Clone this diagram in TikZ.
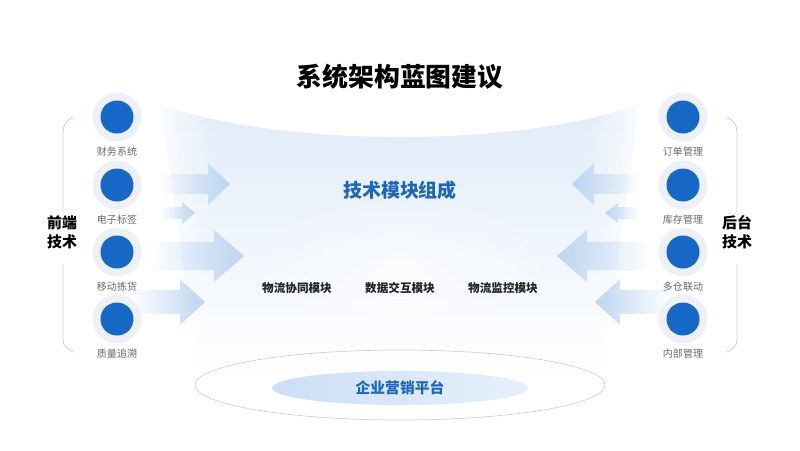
\documentclass[tikz,border=0pt]{standalone}
\usepackage{fontspec}
\setmainfont{Noto Sans CJK SC}
\usetikzlibrary{positioning,fadings}
\definecolor{dotblue}{HTML}{1767C6}
\definecolor{halobg}{HTML}{EDF1F7}
\definecolor{labelgrey}{HTML}{6A6A6A}
\definecolor{titleblue}{HTML}{1C66BC}
\definecolor{modtext}{HTML}{222222}
\definecolor{fieldblue}{HTML}{DDEAF9}
\definecolor{arrowblue}{HTML}{BDD5F1}
\definecolor{bracegrey}{HTML}{CDD2D9}
\definecolor{platA}{HTML}{CCDFF5}
\definecolor{platB}{HTML}{E6F0FB}
\tikzfading[name=tipright, left color=transparent!100, right color=transparent!0]
\tikzfading[name=tipleft, left color=transparent!0, right color=transparent!100]
\tikzfading[name=fieldfade, top color=transparent!10, bottom color=transparent!100]
\tikzfading[name=glowfade, inner color=transparent!40, outer color=transparent!100]
\begin{document}
\begin{tikzpicture}[x=0.02cm, y=-0.02cm,
    halo/.style={circle, fill=halobg, minimum size=0.98cm, inner sep=0pt},
    dot/.style={circle, fill=dotblue, minimum size=0.66cm, inner sep=0pt},
    tag/.style={text=labelgrey, font=\fontsize{5.7pt}{6pt}\selectfont, inner sep=0pt},
    side/.style={align=center, font=\fontsize{8.5pt}{10.8pt}\selectfont\bfseries, inner sep=0pt},
    module/.style={text=modtext, font=\fontsize{6.6pt}{7pt}\selectfont\bfseries, inner sep=0pt},
    brace/.style={draw=bracegrey, line width=0.5pt}]
  \useasboundingbox (0,0) rectangle (800,450);
  \fill[white] (0,0) rectangle (800,450);
  \fill[fieldblue, path fading=fieldfade] (160,104) .. controls (280,148) and (520,148) .. (640,104)
    .. controls (625,200) and (615,290) .. (600,370) -- (200,370)
    .. controls (185,290) and (175,200) .. (160,104) -- cycle;
  \fill[white, path fading=glowfade] (400,265) ellipse [x radius=160, y radius=75];
  \fill[white, path fading=tipleft] (150,95) rectangle (215,380);
  \fill[white, path fading=tipright] (585,95) rectangle (650,380);
  \foreach \tail/\tip/\cy/\hh/\sh/\hl in {160/230/184/21/10/22, 160/195/213/11/6/13,
      150/244/256/26/14/30, 130/205/302/23/12/25}
    \fill[arrowblue, path fading=tipright] (\tail,\cy-\sh) -- (\tip-\hl,\cy-\sh) -- (\tip-\hl,\cy-\hh)
      -- (\tip,\cy) -- (\tip-\hl,\cy+\hh) -- (\tip-\hl,\cy+\sh) -- (\tail,\cy+\sh) -- cycle;
  \foreach \tail/\tip/\cy/\hh/\sh/\hl in {640/572/184/21/10/22, 640/605/213/10/6/13,
      650/557/256/26/14/30, 670/595/302/23/12/25}
    \fill[arrowblue, path fading=tipleft] (\tail,\cy-\sh) -- (\tip+\hl,\cy-\sh) -- (\tip+\hl,\cy-\hh)
      -- (\tip,\cy) -- (\tip+\hl,\cy+\hh) -- (\tip+\hl,\cy+\sh) -- (\tail,\cy+\sh) -- cycle;
  \fill[white, opacity=0.85] (400,385) ellipse [x radius=205, y radius=35];
  \draw[bracegrey, line width=0.4pt] (400,385) ellipse [x radius=205, y radius=35];
  \shade[left color=platA, right color=platB] (400,388) ellipse [x radius=128, y radius=17];
  \node[text=titleblue, font=\fontsize{8.4pt}{9pt}\selectfont\bfseries] (plat) at (400,388) {企业营销平台};
  \node[font=\fontsize{14.7pt}{16pt}\selectfont\bfseries] (title) at (400,77) {系统架构蓝图建议};
  \node[text=titleblue, font=\fontsize{10.8pt}{12pt}\selectfont\bfseries] (core) at (400,190) {技术模块组成};
  \node[module] (mod2) at (400,288) {数据交互模块};
  \node[module] (mod1) at (297,288) {物流协同模块};
  \node[module] (mod3) at (503,288) {物流监控模块};
  \foreach \name/\y/\txt in {l1/117/财务系统, l2/185/电子标签, l3/252/移动拣货, l4/319/质量追溯} {
    \node[halo] (\name) at (117,\y) {};
    \node[dot] at (\name) {};
    \node[tag, below=2.5pt of \name] (\name-tag) {\txt};
  }
  \foreach \name/\y/\txt in {r1/117/订单管理, r2/185/库存管理, r3/252/多仓联动, r4/319/内部管理} {
    \node[halo] (\name) at (683,\y) {};
    \node[dot] at (\name) {};
    \node[tag, below=2.5pt of \name] (\name-tag) {\txt};
  }
  \node[side] (front) at (62,232) {前端\\技术};
  \node[side] (back) at (737,232) {后台\\技术};
  \draw[brace] (73,117) .. controls (66,121) and (63,125) .. (63,132) -- (63,212);
  \draw[brace] (63,264) -- (63,340) .. controls (63,345) and (66,348) .. (73,352);
  \draw[brace] (727,117) .. controls (734,121) and (737,125) .. (737,132) -- (737,212);
  \draw[brace] (737,264) -- (737,340) .. controls (737,345) and (734,348) .. (727,352);
\end{tikzpicture}
\end{document}
